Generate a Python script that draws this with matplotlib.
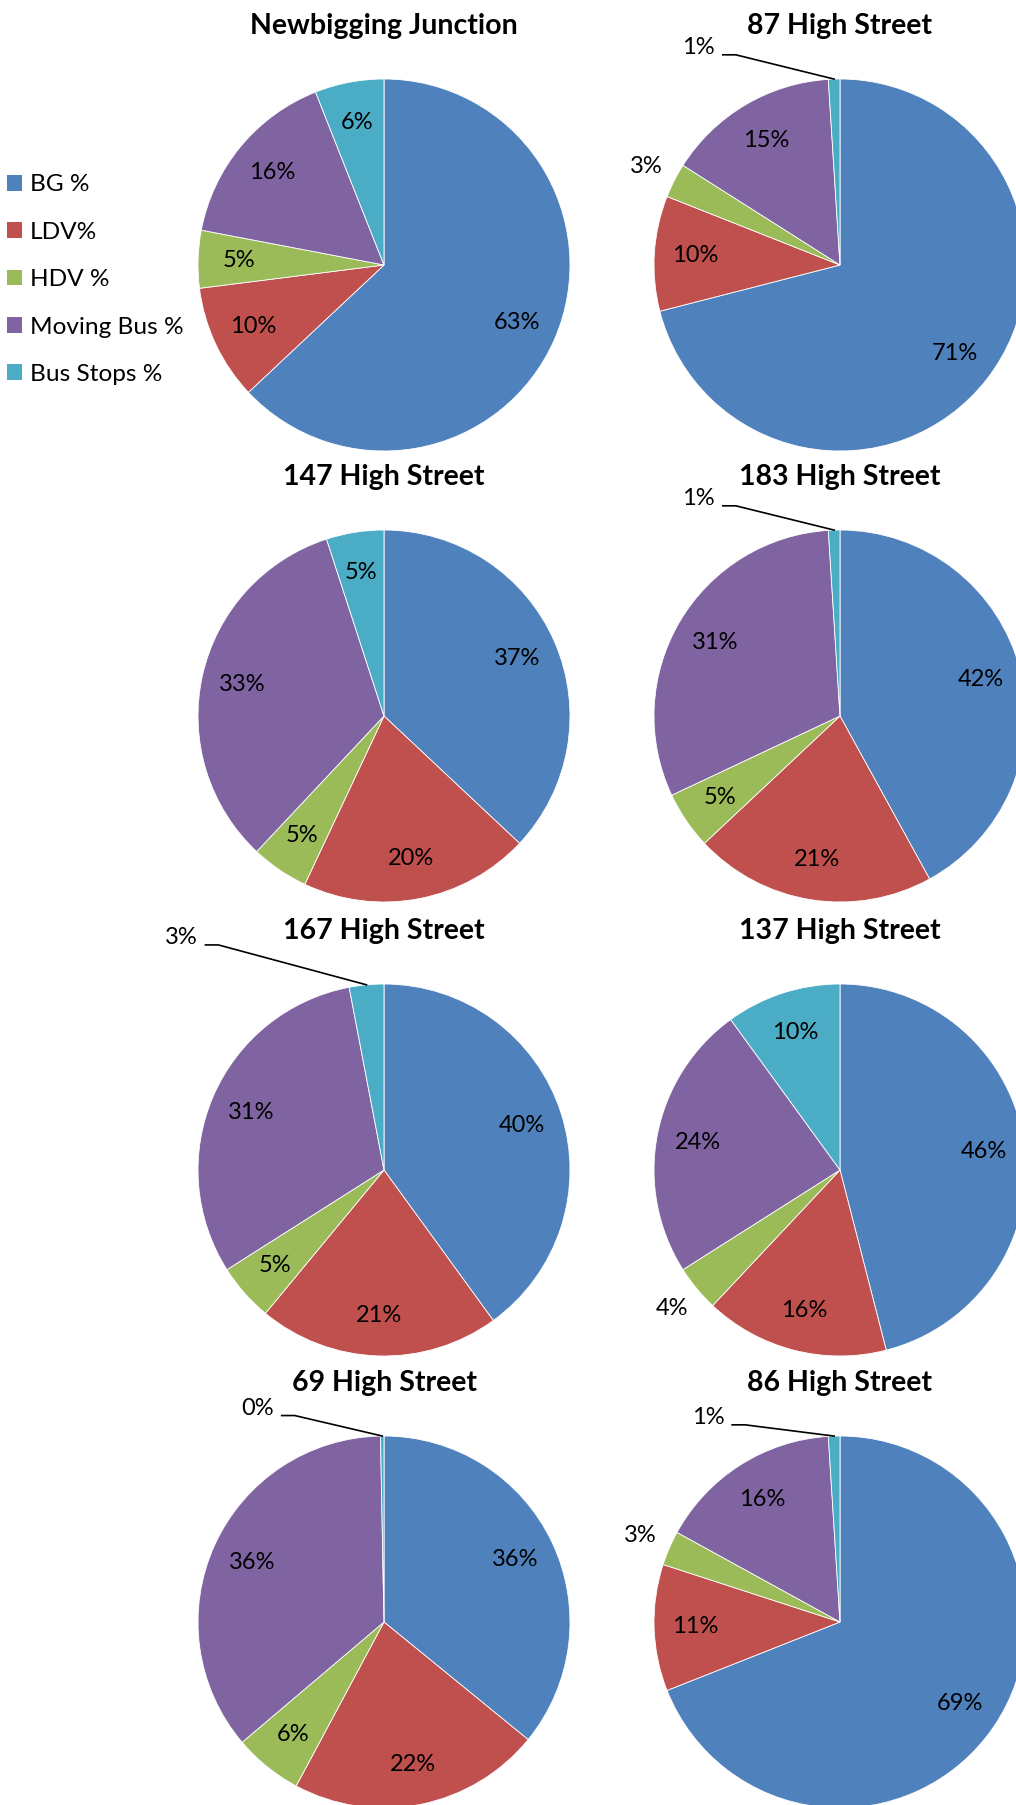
import numpy as np
import matplotlib
matplotlib.use("Agg")
import matplotlib.pyplot as plt
from matplotlib.patches import Patch

plt.rcParams['font.family'] = ['Lato', 'DejaVu Sans']

# ---------------------------------------------------------------------------
# Data (percent shares per site)
# ---------------------------------------------------------------------------
categories = ["BG %", "LDV%", "HDV %", "Moving Bus %", "Bus Stops %"]
colors = ["#4F81BD", "#C0504D", "#9BBB59", "#8064A2", "#4BACC6"]

sites = ["Newbigging Junction", "87 High Street",
         "147 High Street", "183 High Street",
         "167 High Street", "137 High Street",
         "69 High Street", "86 High Street"]

newbigging = [63, 10, 5, 16, 6]
high_87 = [71, 10, 3, 15, 1]
high_147 = [37, 20, 5, 33, 5]
high_183 = [42, 21, 5, 31, 1]
high_167 = [40, 21, 5, 31, 3]
high_137 = [46, 16, 4, 24, 10]
high_69 = [36, 22, 6, 36, 0.3]
high_86 = [69, 11, 3, 16, 1]

shares = [newbigging, high_87, high_147, high_183,
          high_167, high_137, high_69, high_86]

# label placement: slices drawn outside the pie, either along the bisector
# ("out") or off to the upper left with a leader line (offset in radius units)
outside = {(1, 2): "out", (5, 2): "out", (7, 2): "out"}
leader = {(1, 4): (-0.76, 1.17), (3, 4): (-0.76, 1.17), (4, 4): (-1.09, 1.25),
          (6, 4): (-0.68, 1.15), (7, 4): (-0.71, 1.10)}

# ---------------------------------------------------------------------------
# Layout (pixels, top-left origin)
# ---------------------------------------------------------------------------
W, H, DPI = 1016, 1805, 100
R = 186
col_x = [384, 840]
row_y = [265, 716, 1170, 1622]
L = 1.45
LBL = 17

fig = plt.figure(figsize=(W / DPI, H / DPI), dpi=DPI)
fig.patch.set_facecolor("white")

for i, (site, vals) in enumerate(zip(sites, shares)):
    cx = col_x[i % 2]
    cy = row_y[i // 2]
    ax = fig.add_axes([(cx - L * R) / W, (H - cy - L * R) / H,
                       2 * L * R / W, 2 * L * R / H])
    ax.axis("off")
    wedges, _ = ax.pie(vals, colors=colors, startangle=90, counterclock=False,
                       radius=1, wedgeprops=dict(edgecolor="white", linewidth=0.6))
    ax.set_xlim(-L, L)
    ax.set_ylim(-L, L)
    for w in wedges:
        w.set_clip_on(False)

    for j, (v, w) in enumerate(zip(vals, wedges)):
        mid = np.deg2rad((w.theta1 + w.theta2) / 2)
        txt = f"{v:.0f}%"
        if (i, j) in leader:
            lx, ly = leader[(i, j)]
            ax.text(lx, ly, txt, ha="center", va="center", fontsize=LBL,
                    clip_on=False)
            x0 = lx + 0.13
            ex, ey = np.cos(mid), np.sin(mid)
            ax.plot([x0, x0 + 0.07, ex], [ly - 0.04, ly - 0.04, ey],
                    color="black", lw=1.2, clip_on=False)
        elif (i, j) in outside:
            ax.text(1.17 * np.cos(mid), 1.17 * np.sin(mid), txt, ha="center",
                    va="center", fontsize=LBL, clip_on=False)
        else:
            ax.text(0.78 * np.cos(mid), 0.78 * np.sin(mid), txt, ha="center",
                    va="center", fontsize=LBL)

    ax.text(0, 1.285, site, ha="center", va="center", fontsize=20.5,
            fontweight="bold", clip_on=False)

handles = [Patch(facecolor=c, edgecolor="none") for c in colors]
fig.legend(handles, categories, loc="upper left", bbox_to_anchor=(0.0, 1 - 167 / H),
           frameon=False, fontsize=17.6, handlelength=0.61, handleheight=0.61,
           handletextpad=0.3, labelspacing=1.08, borderaxespad=0.0,
           borderpad=0.3)

fig.savefig("out.png", dpi=DPI)
